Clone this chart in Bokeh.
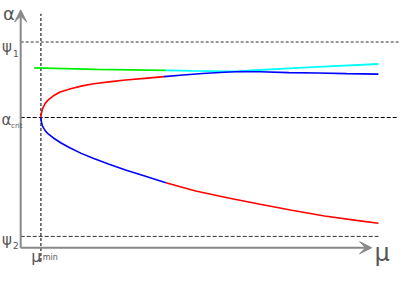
from bokeh.plotting import figure
from bokeh.models import Range1d, Arrow, VeeHead, Label
from bokeh.embed import file_html
from bokeh.resources import INLINE

# ---- schematic values (arbitrary units: mu along x, alpha along y) ----
MU_MIN = 2.1
ALPHA_CRIT = 13.8
PSI1 = 21.8
PSI2 = 1.2
MU_AXIS_END = 36.5
ALPHA_AXIS_END = 25.2
MU_LINE_END = 39.3
MU_PSI2_END = 37.2
ALPHA_VLINE_TOP = 24.8
ALPHA_VLINE_BOTTOM = -1.4

upper_red_mu = [2.1, 2.16, 2.3, 2.55, 2.9, 3.4, 4.1, 5.2, 6.4, 7.6, 9.4, 10.9, 12.9, 14.9]
upper_red_alpha = [13.8, 14.3, 14.8, 15.3, 15.7, 16.1, 16.5, 16.85, 17.15, 17.37, 17.6, 17.77, 17.95, 18.13]
upper_blue_mu = [14.9, 16.9, 18.9, 21.2, 22.9, 24.9, 27.9, 30.9, 33.9, 37.2]
upper_blue_alpha = [18.13, 18.3, 18.47, 18.6, 18.67, 18.65, 18.56, 18.52, 18.45, 18.4]
lower_blue_mu = [2.1, 2.15, 2.25, 2.4, 2.6, 2.9, 3.4, 4.2, 5.1, 6.3, 7.6, 9.2, 10.9, 12.9, 15.1]
lower_blue_alpha = [13.8, 13.35, 12.95, 12.65, 12.33, 12.03, 11.63, 11.1, 10.6, 10.0, 9.45, 8.85, 8.25, 7.6, 6.88]
lower_red_mu = [15.1, 18.2, 21.6, 24.9, 28.2, 31.6, 34.9, 37.2]
lower_red_alpha = [6.88, 6.02, 5.27, 4.6, 3.97, 3.37, 2.9, 2.6]
green_mu = [1.4, 7.9, 15.1]
green_alpha = [19.05, 18.9, 18.8]
cyan_mu = [15.1, 17.9, 21.2, 22.9, 23.9, 27.9, 30.9, 37.2]
cyan_alpha = [18.8, 18.74, 18.68, 18.68, 18.78, 19.01, 19.17, 19.47]

AX = "#888888"
TXT = "#555555"
FONT = "DejaVu Sans"

p = figure(width=400, height=268, output_backend="svg", toolbar_location=None,
           x_range=Range1d(-2.1, 39.5), y_range=Range1d(-2.2, 26.2),
           min_border=0, outline_line_color=None)
p.axis.visible = False
p.grid.visible = False
p.background_fill_color = "white"

# dashed reference lines
p.line([0, MU_LINE_END], [PSI1, PSI1], line_color="#333333", line_width=1, line_dash="3 2")
p.line([0, MU_LINE_END], [ALPHA_CRIT, ALPHA_CRIT], line_color="#000000", line_width=1, line_dash="4 2")
p.line([0, MU_PSI2_END], [PSI2, PSI2], line_color="#333333", line_width=1, line_dash="4 2")
p.line([MU_MIN, MU_MIN], [ALPHA_VLINE_BOTTOM, ALPHA_VLINE_TOP], line_color="#444444",
       line_width=1.4, line_dash="3 2")

# axes with arrow heads
p.add_layout(Arrow(end=VeeHead(size=12, fill_color=AX, line_color=AX, line_width=1),
                   x_start=0, y_start=0, x_end=MU_AXIS_END, y_end=0,
                   line_color=AX, line_width=2))
p.add_layout(Arrow(end=VeeHead(size=12, fill_color=AX, line_color=AX, line_width=1),
                   x_start=0, y_start=0, x_end=0, y_end=ALPHA_AXIS_END,
                   line_color=AX, line_width=2))

# branches
p.line(green_mu, green_alpha, line_color="#00ee00", line_width=1.8)
p.line(cyan_mu, cyan_alpha, line_color="#00ffff", line_width=1.8)
p.line(upper_red_mu, upper_red_alpha, line_color="#ff0000", line_width=1.6)
p.line(upper_blue_mu, upper_blue_alpha, line_color="#0000ff", line_width=1.6)
p.line(lower_blue_mu, lower_blue_alpha, line_color="#0000ff", line_width=1.6)
p.line(lower_red_mu, lower_red_alpha, line_color="#ff0000", line_width=1.6)

def lab(x, y, t, size):
    p.add_layout(Label(x=x, y=y, text=t, text_font=FONT, text_font_size=size,
                       text_color=TXT, text_baseline="alphabetic", text_align="left"))

lab(-1.85, 24.8, "α", "18px")
lab(-1.95, 21.3, "ψ", "15px")
lab(-0.8, 20.6, "1", "9px")
lab(-2.0, 13.5, "α", "15px")
lab(-1.0, 12.9, "crit", "7px")
lab(-1.95, 0.85, "ψ", "15px")
lab(-0.8, 0.2, "2", "9px")
lab(1.1, -0.9, "μ", "16px")
lab(2.3, -1.05, "min", "8px")
lab(36.8, -0.6, "μ", "24px")

open("out.html", "w").write(file_html(p, INLINE))
